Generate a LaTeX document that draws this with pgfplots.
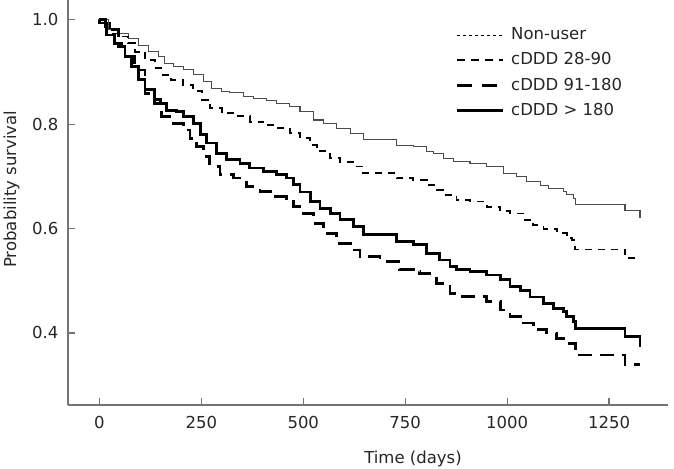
\documentclass[border=0pt]{standalone}
\usepackage{pgfplots}
\pgfplotsset{compat=1.18}
\usepackage{fontspec}
\setmainfont{DejaVu Sans}
\begin{document}
\begin{tikzpicture}
\begin{axis}[
  scale only axis,
  width=300pt, height=202.5pt,
  xmin=-77, xmax=1394.6,
  ymin=0.262, ymax=1.038,
  axis lines=left,
  axis line style={-, black!55, line width=0.6pt},
  tick align=inside,
  major tick length=3.5pt,
  tick style={black!55, line width=0.6pt},
  xtick={0,250,500,750,1000,1250},
  ytick={0.4,0.6,0.8,1.0},
  yticklabel style={/pgf/number format/.cd, fixed, fixed zerofill, precision=1, /tikz/.cd, xshift=-1.25pt},
  xticklabel style={/pgf/number format/.cd, set thousands separator={}, /tikz/.cd, yshift=-2pt},
  /pgf/number format/assume math mode=true,
  font=\fontsize{8.25pt}{10pt}\selectfont,
  ticklabel style={font=\fontsize{8.25pt}{10pt}\selectfont, text=black!85},
  xlabel={Time (days)},
  ylabel={Probability survival},
  xlabel style={at={(axis description cs:0.575,-0.1136)}, anchor=north, inner sep=0pt, text=black!85},
  ylabel style={at={(axis description cs:-0.08,0.533)}, anchor=south, inner sep=0pt, text=black!85},
  const plot,
  legend image code/.code={\draw[#1] (0pt,0pt) -- (23pt,0pt);},
  legend style={draw=none, fill=none, at={(rel axis cs:0.645,0.933)}, anchor=north west, inner sep=0pt, row sep=5pt, font=\fontsize{8.25pt}{10pt}\selectfont, text=black!85, nodes={inner xsep=3.5pt, inner ysep=0pt}},
  legend cell align=left,
]
% Non-user
\addplot[black!70, line width=0.55pt, forget plot] coordinates {
(0,1) (22,0.981) (46,0.973) (71,0.965) (95,0.951) (120,0.939) (144,0.93) (160,0.917) (181,0.91) (206,0.904) (230,0.895) (255,0.882) (275,0.869) (300,0.863) (320,0.86) (353,0.853) (377,0.85) (410,0.846) (435,0.84) (467,0.834) (492,0.825) (525,0.808) (549,0.802) (582,0.792) (615,0.783) (647,0.77) (729,0.76) (770,0.757) (803,0.748) (819,0.744) (843,0.735) (868,0.728) (909,0.724) (950,0.719) (991,0.706) (1024,0.7) (1048,0.69) (1081,0.682) (1101,0.677) (1138,0.671) (1146,0.665) (1162,0.658) (1167,0.647) (1289,0.634) (1326,0.634) (1326,0.62)
};
% cDDD 28-90
\addplot[black, line width=0.9pt, dash pattern=on 3.5pt off 3pt, forget plot] coordinates {
(0,1) (26,0.974) (46,0.968) (71,0.955) (87,0.939) (112,0.923) (136,0.907) (155,0.895) (175,0.885) (206,0.875) (230,0.863) (251,0.847) (271,0.831) (300,0.821) (337,0.815) (369,0.805) (402,0.799) (435,0.792) (467,0.783) (492,0.773) (517,0.76) (533,0.748) (566,0.735) (590,0.728) (623,0.719) (647,0.706) (729,0.697) (770,0.693) (803,0.684) (827,0.674) (843,0.665) (876,0.655) (909,0.652) (950,0.642) (983,0.633) (1007,0.629) (1040,0.617) (1064,0.607) (1089,0.6) (1122,0.591) (1146,0.582) (1159,0.578) (1167,0.56) (1289,0.543) (1326,0.543)
};
% cDDD 91-180
\addplot[black, line width=1.4pt, dash pattern=on 7pt off 4pt, forget plot] coordinates {
(0,1) (14,0.981) (46,0.949) (63,0.93) (87,0.904) (112,0.859) (136,0.84) (153,0.815) (181,0.802) (206,0.789) (222,0.773) (239,0.757) (255,0.738) (271,0.719) (296,0.703) (329,0.697) (361,0.68) (394,0.671) (427,0.661) (459,0.658) (476,0.642) (500,0.629) (525,0.61) (549,0.591) (582,0.572) (615,0.559) (639,0.546) (688,0.537) (737,0.521) (770,0.518) (786,0.514) (811,0.508) (827,0.495) (860,0.476) (884,0.47) (950,0.46) (983,0.444) (1007,0.431) (1032,0.419) (1064,0.406) (1097,0.4) (1122,0.39) (1146,0.38) (1167,0.358) (1289,0.339) (1326,0.339)
};
% cDDD > 180
\addplot[black, line width=1.4pt, forget plot] coordinates {
(0,1) (1,0.994) (18,0.971) (38,0.955) (55,0.949) (63,0.93) (79,0.91) (95,0.885) (112,0.866) (136,0.847) (149,0.84) (165,0.827) (190,0.824) (206,0.815) (230,0.802) (247,0.78) (263,0.764) (288,0.744) (312,0.732) (345,0.725) (369,0.716) (402,0.709) (435,0.703) (459,0.697) (476,0.684) (492,0.67) (517,0.652) (541,0.639) (566,0.629) (590,0.617) (623,0.604) (647,0.588) (729,0.575) (770,0.569) (803,0.553) (835,0.54) (860,0.527) (876,0.521) (909,0.518) (950,0.511) (983,0.502) (1007,0.489) (1032,0.482) (1056,0.469) (1089,0.457) (1113,0.447) (1138,0.441) (1146,0.431) (1162,0.422) (1167,0.409) (1289,0.393) (1326,0.393) (1326,0.374)
};
\addlegendimage{black, line width=0.45pt, dash pattern=on 1.8pt off 1.2pt}
\addlegendimage{black, line width=0.9pt, dash pattern=on 4pt off 3pt}
\addlegendimage{black, line width=1.4pt, dash pattern=on 7.5pt off 5pt}
\addlegendimage{black, line width=1.4pt}
\legend{Non-user, cDDD 28-90, cDDD 91-180, cDDD > 180}
\end{axis}
\pgfresetboundingbox
\path (current axis.south west) ++(-34pt,-31.5pt) coordinate (bbA);
\path (current axis.north east) ++(3pt,0pt) coordinate (bbB);
\path (bbA) rectangle (bbB);
\end{tikzpicture}
\end{document}
